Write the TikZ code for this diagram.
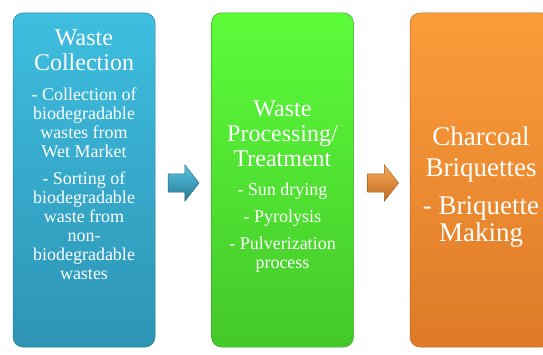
\documentclass[tikz,border=0pt]{standalone}
\usepackage{fontspec}
\setmainfont{Liberation Serif}
\newfontfamily\stagefont{Liberation Serif}
\usetikzlibrary{shapes.arrows}
\definecolor{bluetop}{HTML}{3EBEE0}
\definecolor{bluebot}{HTML}{2E94B4}
\definecolor{greentop}{HTML}{5CFC3A}
\definecolor{greenbot}{HTML}{44C82A}
\definecolor{orangetop}{HTML}{FB9D3A}
\definecolor{orangebot}{HTML}{DE7A28}
\tikzset{
  stage/.style={rounded corners=10pt, minimum width=142pt, minimum height=334pt, inner sep=0pt, line width=0.5pt},
  stagetitle/.style={text=white, align=center, inner sep=0pt, font=\stagefont\fontsize{24}{25}\selectfont},
  stagebody/.style={text=white, align=center, inner sep=0pt, font=\stagefont\fontsize{18}{19}\selectfont},
  flowarrow/.style={single arrow, single arrow head extend=9pt, single arrow tip angle=104,
    minimum height=31pt, inner xsep=0pt, inner ysep=9pt, line width=0.4pt}
}
\begin{document}
\begin{tikzpicture}[x=1pt, y=1pt]
  \useasboundingbox (0,0) rectangle (543,354);
  \node[stage, draw=bluebot!85!black, top color=bluetop, bottom color=bluebot] (collect) at (84,174) {};
  \node[stage, draw=greenbot!85!black, top color=greentop, bottom color=greenbot] (process) at (282.5,174) {};
  \node[stage, draw=orangebot!85!black, top color=orangetop, bottom color=orangebot] (charcoal) at (481,174) {};
  \node[flowarrow, draw=bluebot!70!black, top color=bluetop!85!white, bottom color=bluebot!80!black] (arrowA) at (180,171) {};
  \node[flowarrow, draw=orangebot!75!black, top color=orangetop!85!white, bottom color=orangebot!85!black] (arrowB) at (379.5,171) {};
  \node[stagetitle] (collecthead) at (84,304) {Waste\\Collection};
  \node[stagebody] (collecttext) at (84,170.5) {- Collection of\\biodegradable\\wastes from\\Wet Market\\[8pt]
    - Sorting of\\biodegradable\\waste from\\non-\\biodegradable\\wastes};
  \node[stagetitle] (processhead) at (282.5,220.5) {Waste\\Processing/\\Treatment};
  \node[stagebody] (processtext) at (282.5,126) {- Sun drying\\[8pt]- Pyrolysis\\[8pt]- Pulverization\\process};
  \node[stagetitle, font=\stagefont\fontsize{27}{31}\selectfont] (charcoalhead) at (481,199.5) {Charcoal\\Briquettes};
  \node[stagetitle, font=\stagefont\fontsize{27}{27}\selectfont] (charcoaltext) at (481,132.5) {- Briquette\\Making};
\end{tikzpicture}
\end{document}
